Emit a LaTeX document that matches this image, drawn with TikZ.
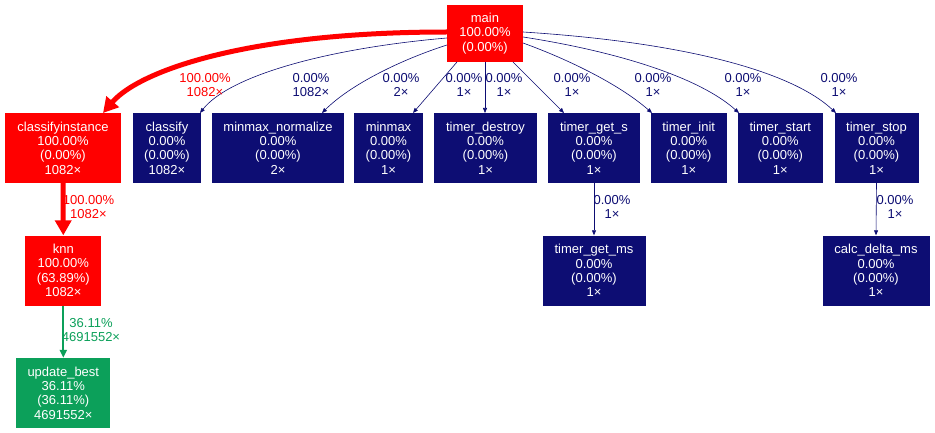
\documentclass[tikz,border=0pt]{standalone}
\usepackage{fontspec}
\setmainfont{Liberation Sans}
\usetikzlibrary{arrows.meta}
\definecolor{hot}{RGB}{255,0,0}
\definecolor{cold}{RGB}{13,13,115}
\definecolor{mid}{RGB}{12,160,90}
\begin{document}
\begin{tikzpicture}[x=1pt,y=1pt,
  every node/.style={font=\fontsize{13}{14.3}\selectfont, align=center, inner sep=0pt},
  fbox/.style={rectangle, text=white, minimum height=70pt},
  hotbox/.style={fbox, fill=hot},
  coldbox/.style={fbox, fill=cold},
  midbox/.style={fbox, fill=mid},
  coldedge/.style={draw=cold, line width=0.6pt, -{Triangle[length=5pt,width=4pt]}},
  hotedge/.style={draw=hot, line width=5pt, -{Triangle[length=15pt,width=16pt]}},
  midedge/.style={draw=mid, line width=2pt, -{Triangle[length=8pt,width=7pt]}},
  coldlab/.style={text=cold},
  hotlab/.style={text=hot},
  midlab/.style={text=mid}]
\useasboundingbox (0,0) rectangle (935,-433);
\fill[white] (0,0) rectangle (935,-433);
% nodes
\node[hotbox, minimum width=76pt, minimum height=57pt] (main) at (485,-33.5) {main\\100.00\%\\(0.00\%)};
\node[hotbox, minimum width=116pt] (ci) at (63,-148) {classifyinstance\\100.00\%\\(0.00\%)\\1082×};
\node[coldbox, minimum width=68pt] (classify) at (167,-148) {classify\\0.00\%\\(0.00\%)\\1082×};
\node[coldbox, minimum width=132pt] (mmn) at (278,-148) {minmax\_normalize\\0.00\%\\(0.00\%)\\2×};
\node[coldbox, minimum width=69pt] (mm) at (388.5,-148) {minmax\\0.00\%\\(0.00\%)\\1×};
\node[coldbox, minimum width=103pt] (td) at (485.5,-148) {timer\_destroy\\0.00\%\\(0.00\%)\\1×};
\node[coldbox, minimum width=92pt] (tgs) at (594,-148) {timer\_get\_s\\0.00\%\\(0.00\%)\\1×};
\node[coldbox, minimum width=76pt] (ti) at (688.7,-148) {timer\_init\\0.00\%\\(0.00\%)\\1×};
\node[coldbox, minimum width=85pt] (tst) at (780.3,-148) {timer\_start\\0.00\%\\(0.00\%)\\1×};
\node[coldbox, minimum width=84pt] (tsp) at (876.5,-148) {timer\_stop\\0.00\%\\(0.00\%)\\1×};
\node[hotbox, minimum width=76pt] (knn) at (63.3,-270.5) {knn\\100.00\%\\(63.89\%)\\1082×};
\node[midbox, minimum width=94pt] (ub) at (63.3,-393) {update\_best\\36.11\%\\(36.11\%)\\4691552×};
\node[coldbox, minimum width=103pt] (tgm) at (594,-270.5) {timer\_get\_ms\\0.00\%\\(0.00\%)\\1×};
\node[coldbox, minimum width=107pt] (cdm) at (876,-270.5) {calc\_delta\_ms\\0.00\%\\(0.00\%)\\1×};
% edge anchor coordinates
\coordinate (m1) at (447,-32);
\coordinate (m2) at (447,-38);
\coordinate (m3) at (447,-45);
\coordinate (m4) at (457,-62);
\coordinate (m5) at (485,-62);
\coordinate (m6) at (513,-62);
\coordinate (m7) at (523,-43);
\coordinate (m8) at (523,-37);
\coordinate (m9) at (523,-32);
\coordinate (e1) at (103,-113);
\coordinate (e2) at (200,-113);
\coordinate (e3) at (322,-113);
\coordinate (e4) at (413,-113);
\coordinate (e5) at (485,-113);
\coordinate (e6) at (564,-113);
\coordinate (e7) at (652,-113);
\coordinate (e8) at (739,-113);
\coordinate (e9) at (836,-113);
% edges
\draw[hotedge] (m1) .. controls (250,-32) and (140,-70) .. (e1);
\draw[coldedge] (m2) .. controls (330,-48) and (230,-75) .. (e2);
\draw[coldedge] (m3) .. controls (400,-60) and (350,-85) .. (e3);
\draw[coldedge] (m4) -- (e4);
\draw[coldedge] (m5) -- (e5);
\draw[coldedge] (m6) -- (e6);
\draw[coldedge] (m7) .. controls (570,-60) and (620,-85) .. (e7);
\draw[coldedge] (m8) .. controls (620,-52) and (700,-78) .. (e8);
\draw[coldedge] (m9) .. controls (680,-42) and (790,-70) .. (e9);
\draw[hotedge] (ci.south) -- (knn.north);
\draw[midedge] (knn.south) -- (ub.north);
\draw[coldedge] (tgs.south) -- (tgm.north);
\draw[coldedge] (tsp.south) -- (cdm.north);
% labels
\node[hotlab] (l1) at (205,-85) {100.00\%\\1082×};
\node[coldlab] (l2) at (311,-85) {0.00\%\\1082×};
\node[coldlab] (l3) at (401,-85) {0.00\%\\2×};
\node[coldlab] (l4) at (464,-85) {0.00\%\\1×};
\node[coldlab] (l5) at (504,-85) {0.00\%\\1×};
\node[coldlab] (l6) at (572,-85) {0.00\%\\1×};
\node[coldlab] (l7) at (653,-85) {0.00\%\\1×};
\node[coldlab] (l8) at (743,-85) {0.00\%\\1×};
\node[coldlab] (l9) at (839,-85) {0.00\%\\1×};
\node[hotlab] (l10) at (88.5,-207) {100.00\%\\1082×};
\node[midlab] (l11) at (91,-330) {36.11\%\\4691552×};
\node[coldlab] (l12) at (612,-207) {0.00\%\\1×};
\node[coldlab] (l13) at (895,-207) {0.00\%\\1×};
\end{tikzpicture}
\end{document}
